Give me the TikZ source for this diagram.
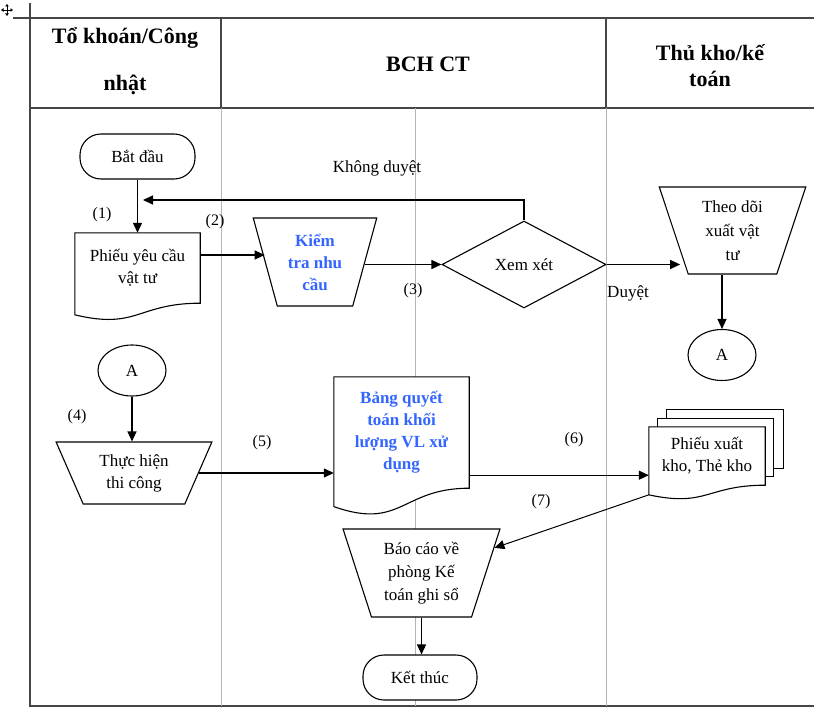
\documentclass[tikz,border=0pt]{standalone}
\usepackage{fontspec}
\setmainfont{Liberation Serif}
\usetikzlibrary{arrows.meta,shapes.geometric,calc}
\definecolor{stepblue}{RGB}{51,102,255}
\definecolor{rulegray}{RGB}{70,70,70}
\definecolor{lanegray}{RGB}{180,180,180}
\pgfdeclarelayer{lanes}
\pgfdeclarelayer{paper}
\pgfsetlayers{lanes,paper,main}

% outline of a "document" symbol around a borderless node (wavy lower edge)
\newcommand\docoutline[1]{%
  \draw[shapeline] (#1.north west) -- (#1.north east) -- (#1.south east)
    .. controls (#1.south) and ($(#1.south)!0.38!180:(#1.north)$)
    .. ($(#1.south west)!0.165!180:(#1.north west)$) -- cycle;}

\begin{document}
\begin{tikzpicture}[x=1pt,y=-1pt,
  every node/.style={font=\fontsize{17}{22}\selectfont, align=center, inner sep=0pt},
  shapeline/.style={draw=black, line width=1.1pt, fill=white},
  link/.style={draw=black, line width=1.3pt, -{Triangle[length=10pt,width=9pt]}},
  terminal/.style={shapeline, rounded corners=21pt, minimum height=45pt},
  manual/.style={shapeline, trapezium, shape border rotate=180, trapezium stretches=true},
  decision/.style={shapeline, diamond},
  connector/.style={shapeline, ellipse, minimum width=68pt, minimum height=51pt},
  docbody/.style={draw=none, inner sep=0pt},
  bluetext/.style={font=\fontsize{17}{22}\selectfont\bfseries, text=stepblue},
  header/.style={font=\fontsize{22}{26}\selectfont\bfseries, anchor=base},
  numtag/.style={font=\fontsize{16}{20}\selectfont}
]
\useasboundingbox (0,0) rectangle (814,717);

% table frame and swimlanes
\begin{pgfonlayer}{lanes}
  \draw[rulegray, line width=1.8pt] (13,18) -- (814,18);
  \draw[rulegray, line width=1.8pt] (30,3) -- (30,706) -- (814,706);
  \draw[rulegray, line width=1.8pt] (30,108) -- (814,108);
  \draw[rulegray, line width=1.4pt] (221,18) -- (221,108) (606,18) -- (606,108);
  \draw[lanegray, line width=1pt] (221,108) -- (221,706) (415,108) -- (415,706)
    (606,108) -- (606,706);
  % table move handle
  \foreach \dx/\dy in {0/-6,0/6,-6/0,6/0}
    \draw[line width=0.8pt, -{Triangle[length=2.5pt,width=3.5pt]}] (7,10) -- ++(\dx,\dy);
\end{pgfonlayer}

% column headers
\node[header] (h1a) at (125,44) {Tổ khoán/Công};
\node[header] (h1b) at (125,91) {nhật};
\node[header] (h2) at (428,71) {BCH CT};
\node[header] (h3a) at (710,61) {Thủ kho/kế};
\node[header] (h3b) at (710,87) {toán};

% flowchart symbols
\node[terminal, minimum width=115pt] (start) at (137.5,156.5) {Bắt đầu};
\node[docbody, minimum width=125pt, minimum height=70pt] (req) at (137.5,268) {Phiếu yêu cầu\\vật tư};
\node[manual, minimum width=124pt, minimum height=88pt, trapezium left angle=73,
  trapezium right angle=73, bluetext] (check) at (315,262) {Kiểm\\tra nhu\\cầu};
\node[decision, minimum width=164pt, minimum height=87pt, aspect=1.885] (review) at (524,264.5) {Xem xét};
\node[manual, minimum width=147pt, minimum height=87pt, trapezium left angle=71.6,
  trapezium right angle=71.6, font=\fontsize{17}{24}\selectfont] (track) at (732.5,230.5) {Theo dõi\\xuất vật\\tư};
\node[connector] (connR) at (722,355) {A};
\node[connector] (connL) at (132,370.5) {A};
\node[manual, minimum width=156pt, minimum height=62pt, trapezium left angle=63.8,
  trapezium right angle=63.8] (build) at (134,473) {Thực hiện\\thi công};
\node[docbody, minimum width=135pt, minimum height=111pt, bluetext] (ledger) at (401.5,432.5)
  {Bảng quyết\\toán khối\\lượng VL xử\\dụng};
\node[docbody, minimum width=116pt, minimum height=58pt] (slip) at (707,456) {Phiếu xuất\\kho, Thẻ kho};
\node[manual, minimum width=157pt, minimum height=88pt, trapezium left angle=70.9,
  trapezium right angle=70.9, font=\fontsize{17}{23}\selectfont] (report) at (421.5,573)
  {Báo cáo về\\phòng Kế\\toán ghi sổ};
\node[terminal, minimum width=114pt] (finish) at (420,677.5) {Kết thúc};

% document outlines, drawn beneath their texts
\begin{pgfonlayer}{paper}
  \docoutline{req}
  \docoutline{ledger}
  \draw[shapeline] ([shift={(18,-17)}]slip.north west) rectangle ([shift={(18,-17)}]slip.south east);
  \draw[shapeline] ([shift={(8.5,-8.5)}]slip.north west) rectangle ([shift={(8.5,-8.5)}]slip.south east);
  \docoutline{slip}
\end{pgfonlayer}

% step numbers and branch labels
\node[numtag] (n1) at (102,215) {(1)};
\node[numtag] (n2) at (215,222) {(2)};
\node[numtag] (n3) at (413,291) {(3)};
\node[numtag] (n4) at (77,417) {(4)};
\node[numtag] (n5) at (262,443) {(5)};
\node[numtag] (n6) at (574,440) {(6)};
\node[numtag] (n7) at (541,502) {(7)};
\node (reject) at (377,168) {Không duyệt};
\node (approve) at (628,293) {Duyệt};

% connectors
\coordinate (backin) at (143,200);
\draw[link] (start.south) -- (req.north);
\draw[link] ($(req.east)+(0,-13)$) -- ($(req.east -| check.west)+(0,-13)$);
\draw[link] (check.east |- review.west) -- (review.west);
\draw[link] (review.north) |- (backin);
\draw[link] (review.east) -- ($(review.east -| track.west)+(7,0)$);
\draw[link] (track.south -| connR.north) -- (connR.north);
\draw[link] (connL.south) -- (connL.south |- build.north);
\draw[link] (build.east) -- (build.east -| ledger.west);
\draw[link] ($(ledger.east |- slip.south)+(0,-10)$) -- ($(slip.south west)+(0,-10)$);
\draw[link, line width=1pt] ($(slip.south west)!0.165!180:(slip.north west)$) -- (report);
\draw[link] (report.south) -- (report.south |- finish.north);
\end{tikzpicture}
\end{document}
